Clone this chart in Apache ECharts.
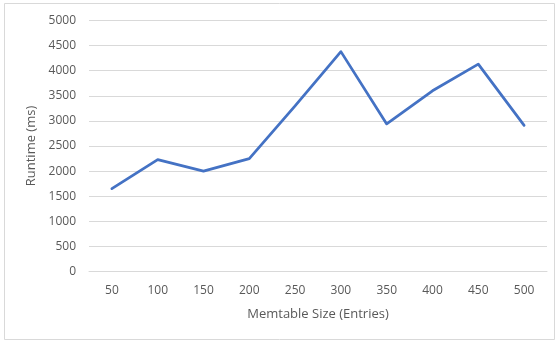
<!DOCTYPE html>
<html>
<head>
<meta charset="utf-8">
<script src="https://cdn.jsdelivr.net/npm/echarts@6/dist/echarts.min.js"></script>
<style>
  html, body { margin: 0; padding: 0; background: #fff; }
  #chart { width: 558px; height: 341px; }
</style>
</head>
<body>
<div id="chart"></div>
<script>
// Memtable size vs. measured runtime
const memtableSizes = ['50', '100', '150', '200', '250', '300', '350', '400', '450', '500'];
const runtimeMs = [1650, 2230, 2000, 2250, 3300, 4380, 2940, 3600, 4130, 2910];

const axisFont = '"Open Sans", "Liberation Sans", sans-serif';
const textGray = '#595959';

const chart = echarts.init(document.getElementById('chart'), null, { renderer: 'canvas' });

chart.setOption({
  animation: false,
  backgroundColor: '#ffffff',
  graphic: [{
    type: 'rect',
    shape: { x: 4.5, y: 3.5, width: 550, height: 336 },
    style: { fill: 'none', stroke: '#d9d9d9', lineWidth: 1 },
    silent: true,
    z: -1
  }],
  grid: { left: 89, right: 11, top: 20.5, bottom: 69.5 },
  xAxis: {
    type: 'category',
    data: memtableSizes,
    boundaryGap: true,
    name: 'Memtable Size (Entries)',
    nameLocation: 'middle',
    nameGap: 36,
    nameTextStyle: { color: textGray, fontSize: 13, fontFamily: axisFont },
    axisLine: { show: true, lineStyle: { color: '#d9d9d9' } },
    axisTick: { show: false },
    axisLabel: { color: textGray, fontSize: 12, fontFamily: axisFont, margin: 13 }
  },
  yAxis: {
    type: 'value',
    min: 0,
    max: 5000,
    interval: 500,
    name: 'Runtime (ms)',
    nameLocation: 'middle',
    nameGap: 48,
    nameTextStyle: { color: textGray, fontSize: 13, fontFamily: axisFont },
    axisLine: { show: false },
    axisTick: { show: false },
    axisLabel: {
      color: textGray, fontSize: 12, fontFamily: axisFont, margin: 13,
      formatter: (v) => String(v)
    },
    splitLine: { lineStyle: { color: '#d9d9d9', width: 1 } }
  },
  series: [{
    type: 'line',
    data: runtimeMs,
    showSymbol: false,
    symbol: 'none',
    lineStyle: { color: '#4472c4', width: 2.75, join: 'round', cap: 'round' }
  }]
});
</script>
</body>
</html>
